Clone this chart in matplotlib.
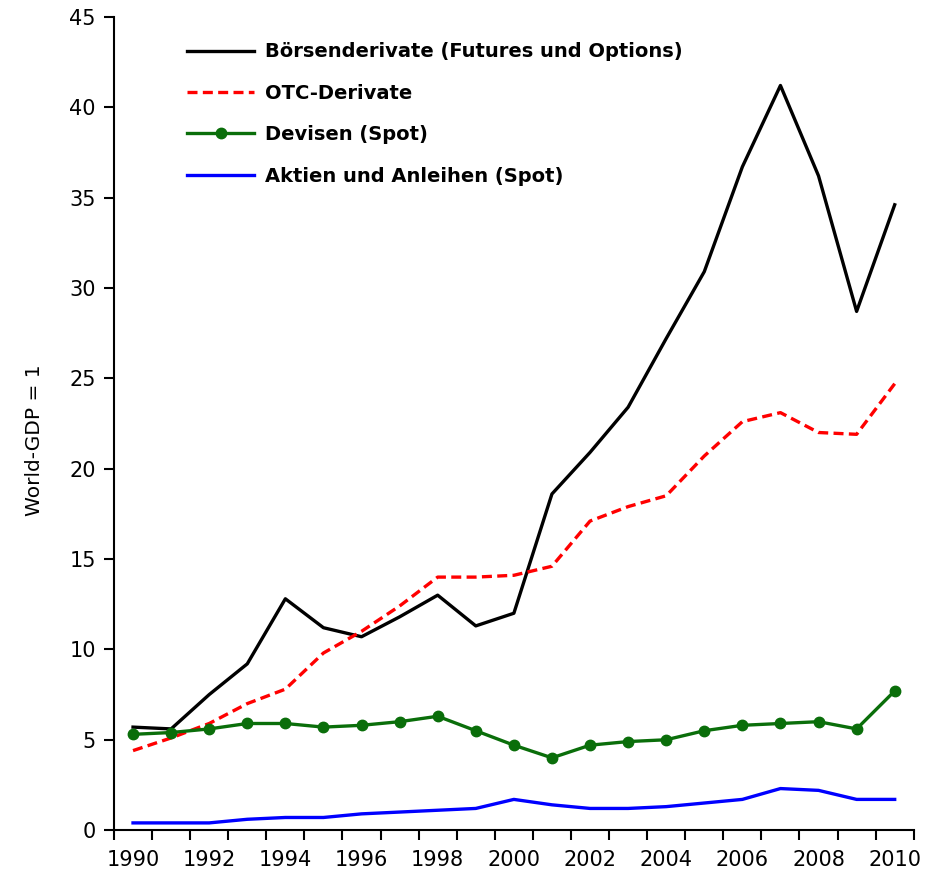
import numpy as np
import matplotlib.pyplot as plt

years = list(range(1990, 2011))
boerse = [5.7, 5.6, 7.5, 9.2, 12.8, 11.2, 10.7, 11.8, 13.0, 11.3, 12.0,
          18.6, 20.9, 23.4, 27.2, 30.9, 36.7, 41.2, 36.2, 28.7, 34.6]
otc = [4.4, 5.1, 5.9, 7.0, 7.8, 9.8, 11.0, 12.4, 14.0, 14.0, 14.1,
       14.6, 17.1, 17.9, 18.5, 20.7, 22.6, 23.1, 22.0, 21.9, 24.7]
devisen = [5.3, 5.4, 5.6, 5.9, 5.9, 5.7, 5.8, 6.0, 6.3, 5.5, 4.7,
           4.0, 4.7, 4.9, 5.0, 5.5, 5.8, 5.9, 6.0, 5.6, 7.7]
aktien = [0.4, 0.4, 0.4, 0.6, 0.7, 0.7, 0.9, 1.0, 1.1, 1.2, 1.7,
          1.4, 1.2, 1.2, 1.3, 1.5, 1.7, 2.3, 2.2, 1.7, 1.7]
labels = ['Börsenderivate (Futures und Options)', 'OTC-Derivate',
          'Devisen (Spot)', 'Aktien und Anleihen (Spot)']

plt.rcParams['font.family'] = ['DejaVu Sans']

fig = plt.figure(figsize=(9.42, 8.85), dpi=100)
ax = fig.add_axes([0.121, 0.062, 0.849, 0.919])

x = np.arange(len(years))
ax.plot(x, boerse, color='black', lw=2.4, label=labels[0])
ax.plot(x, otc, color='red', lw=2.4, ls=(0, (3, 1.6)), label=labels[1])
ax.plot(x, devisen, color='#0a6e0a', lw=2.4, marker='o', ms=7.5, label=labels[2])
ax.plot(x, aktien, color='blue', lw=2.4, label=labels[3])

ax.set_xlim(-0.5, len(years) - 0.5)
ax.set_ylim(0, 45)
ax.set_yticks(range(0, 46, 5))
ax.set_xticks(np.arange(-0.5, len(years)), [''] * (len(years) + 1))
ax.set_xticks(x[::2], [str(y) for y in years[::2]], minor=True)
ax.tick_params(axis='x', which='minor', length=0, pad=14, labelsize=15)
ax.tick_params(axis='x', which='major', length=7, width=1.5, direction='out')
ax.tick_params(axis='y', length=7, width=1.5, labelsize=15, pad=6)
for s in ['top', 'right']:
    ax.spines[s].set_visible(False)
for s in ['left', 'bottom']:
    ax.spines[s].set_linewidth(1.5)

ax.set_ylabel('World-GDP = 1', fontsize=14.5)
ax.yaxis.set_label_coords(-0.088, 0.48)

leg = ax.legend(loc='upper left', bbox_to_anchor=(0.07, 0.99), frameon=False,
                prop={'weight': 'bold', 'size': 14}, handlelength=3.4,
                labelspacing=1.15, handletextpad=0.6)

fig.savefig('out.png', dpi=100)
